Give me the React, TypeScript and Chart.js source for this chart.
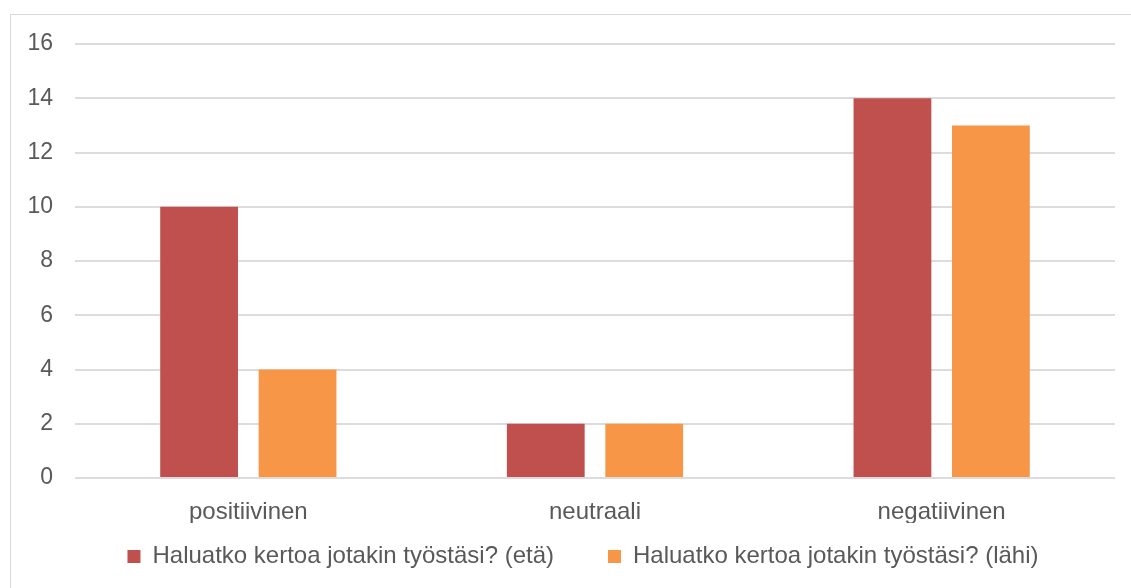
import React, { useEffect, useRef } from "react";
import { Chart, registerables } from "chart.js";

Chart.register(...registerables);

const categories = ["positiivinen", "neutraali", "negatiivinen"];
const seriesNames = [
  "Haluatko kertoa jotakin työstäsi? (etä)",
  "Haluatko kertoa jotakin työstäsi? (lähi)",
];
const etaValues = [10, 2, 14];
const lahiValues = [4, 2, 13];
const yTicks = [0, 2, 4, 6, 8, 10, 12, 14, 16];

const FONT = "'Liberation Sans', Arial, sans-serif";
const TEXT = "#595959";

const legendPlacement = {
  id: "legendPlacement",
  afterLayout(chart: any) {
    const l = chart.legend;
    if (!l) return;
    l.left = 40;
    l.right = chart.width - 16;
    l.width = l.right - l.left;
    l.top = 475.5;
    l.bottom = chart.height;
    l.height = l.bottom - l.top;
  },
};

export default function App() {
  const ref = useRef<HTMLCanvasElement | null>(null);

  useEffect(() => {
    if (!ref.current) return;
    const chart = new Chart(ref.current, {
      type: "bar",
      data: {
        labels: categories,
        datasets: [
          {
            label: seriesNames[0],
            data: etaValues,
            backgroundColor: "#C0504D",
            borderWidth: 0,
            categoryPercentage: 0.568,
            barPercentage: 0.79,
          },
          {
            label: seriesNames[1],
            data: lahiValues,
            backgroundColor: "#F79646",
            borderWidth: 0,
            categoryPercentage: 0.568,
            barPercentage: 0.79,
          },
        ],
      },
      options: {
        responsive: false,
        animation: false,
        layout: { padding: { top: 29, left: 0, right: 16, bottom: 25 } },
        plugins: {
          tooltip: { enabled: false },
          legend: {
            position: "bottom",
            maxHeight: 40,
            labels: {
              boxWidth: 13,
              boxHeight: 13,
              padding: 54,
              color: TEXT,
              font: { family: FONT, size: 24 },
            },
          },
        },
        scales: {
          x: {
            grid: { display: false },
            border: { display: false },
            ticks: {
              color: TEXT,
              padding: 12,
              font: { family: FONT, size: 24 },
            },
            afterFit: (s: any) => {
              s.height = 45;
            },
          },
          y: {
            min: yTicks[0],
            max: yTicks[yTicks.length - 1],
            afterBuildTicks: (s: any) => {
              s.ticks = yTicks.map((v) => ({ value: v }));
            },
            grid: { color: "#dcdcdc", lineWidth: 2, drawTicks: false },
            border: { display: false },
            ticks: {
              color: TEXT,
              padding: 22,
              font: { family: FONT, size: 23 },
            },
            afterFit: (s: any) => {
              s.width = 64;
              s.paddingTop = 0;
              s.paddingBottom = 0;
            },
          },
        },
      },
      plugins: [legendPlacement],
    });
    return () => chart.destroy();
  }, []);

  return (
    <div
      style={{
        position: "fixed",
        left: 10,
        top: 14,
        width: 1140,
        height: 600,
        border: "1px solid #d9d9d9",
        boxSizing: "border-box",
        background: "#fff",
      }}
    >
      <canvas ref={ref} width={1120} height={573} style={{ display: "block" }} />
    </div>
  );
}
